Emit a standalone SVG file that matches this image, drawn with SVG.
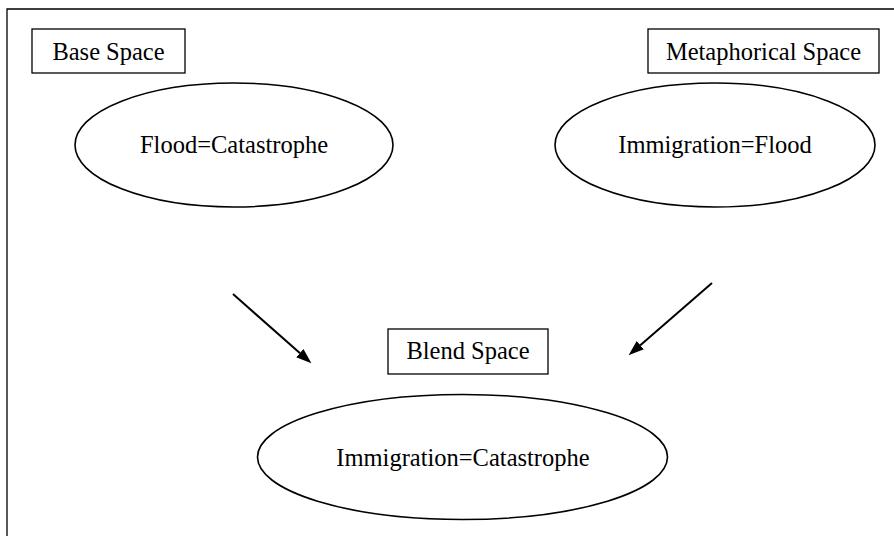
<svg xmlns="http://www.w3.org/2000/svg" width="894" height="536" viewBox="0 0 894 536">
<style>
text{font-family:"Liberation Serif","Times New Roman",serif;font-size:24.5px;fill:#000;text-anchor:middle}
.box{fill:#fff;stroke:#000;stroke-width:1.3}
.ell{fill:#fff;stroke:#000;stroke-width:1.6}
.frame{fill:none;stroke:#000;stroke-width:1.3}
.conn{stroke:#000;stroke-width:2;fill:none}
</style>
<defs>
<marker id="ah" markerUnits="userSpaceOnUse" markerWidth="16" markerHeight="12" refX="0" refY="6" orient="auto" viewBox="0 0 16 12">
<path d="M0,0.5 L15.5,6 L0,11.5 z" fill="#000"/>
</marker>
</defs>
<rect width="894" height="536" fill="#fff"/>
<path class="frame" d="M7,536 L7,9 L894,9"/>
<g id="base-label">
<rect class="box" x="32" y="29" width="153" height="44"/>
<text x="108.5" y="60">Base Space</text>
</g>
<g id="metaphorical-label">
<rect class="box" x="648" y="29" width="231" height="44"/>
<text x="763.5" y="60">Metaphorical Space</text>
</g>
<g id="flood-catastrophe">
<ellipse class="ell" cx="234" cy="145" rx="159" ry="62"/>
<text x="234" y="153">Flood=Catastrophe</text>
</g>
<g id="immigration-flood">
<ellipse class="ell" cx="715" cy="145" rx="160" ry="62"/>
<text x="715" y="153">Immigration=Flood</text>
</g>
<g id="blend-label">
<rect class="box" x="388" y="329" width="160" height="45"/>
<text x="468" y="359">Blend Space</text>
</g>
<g id="immigration-catastrophe">
<ellipse class="ell" cx="462.5" cy="457" rx="205" ry="62.5"/>
<text x="463" y="466">Immigration=Catastrophe</text>
</g>
<g id="connectors">
<line class="conn" x1="233" y1="294" x2="299.8" y2="353.1" marker-end="url(#ah)"/>
<line class="conn" x1="712" y1="283" x2="640.3" y2="345.2" marker-end="url(#ah)"/>
</g>
</svg>
